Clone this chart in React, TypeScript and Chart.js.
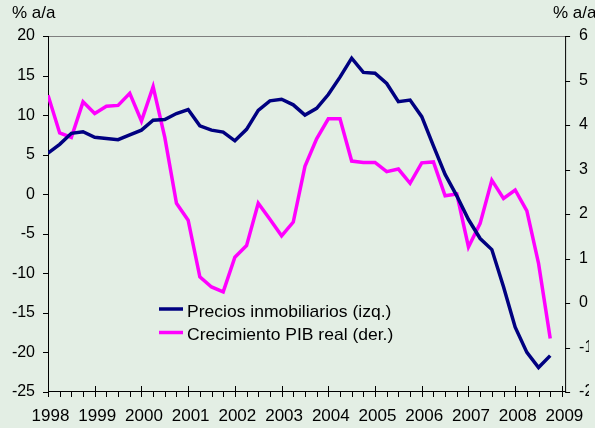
import React, { useEffect, useRef } from 'react';
import { Chart, registerables } from 'chart.js';

Chart.register(...registerables);

// Quarterly categories (1998 T1 .. 2008 T4)
const quarters = [
  '1998 T1', '1998 T2', '1998 T3', '1998 T4',
  '1999 T1', '1999 T2', '1999 T3', '1999 T4',
  '2000 T1', '2000 T2', '2000 T3', '2000 T4',
  '2001 T1', '2001 T2', '2001 T3', '2001 T4',
  '2002 T1', '2002 T2', '2002 T3', '2002 T4',
  '2003 T1', '2003 T2', '2003 T3', '2003 T4',
  '2004 T1', '2004 T2', '2004 T3', '2004 T4',
  '2005 T1', '2005 T2', '2005 T3', '2005 T4',
  '2006 T1', '2006 T2', '2006 T3', '2006 T4',
  '2007 T1', '2007 T2', '2007 T3', '2007 T4',
  '2008 T1', '2008 T2', '2008 T3', '2008 T4',
];

// Left axis series (% a/a)
const preciosInmobiliarios = [
  5.2, 6.3, 7.7, 7.9, 7.2, 7.05, 6.9, 7.5, 8.1, 9.35,
  9.45, 10.2, 10.7, 8.65, 8.1, 7.85, 6.75, 8.2, 10.6, 11.8,
  12.0, 11.3, 10.0, 10.85, 12.6, 14.8, 17.2, 15.4, 15.3, 14.0,
  11.7, 11.9, 9.8, 6.1, 2.5, -0.2, -3.2, -5.6, -7.0, -11.7,
  -16.8, -20.0, -21.9, -20.4,
];

// Right axis series (% a/a)
const crecimientoPIB = [
  4.67, 3.82, 3.72, 4.52, 4.26, 4.42, 4.44, 4.71, 4.09, 4.86,
  3.72, 2.24, 1.86, 0.59, 0.36, 0.25, 1.03, 1.29, 2.24, 1.88,
  1.51, 1.82, 3.07, 3.69, 4.14, 4.14, 3.19, 3.16, 3.16, 2.95,
  3.01, 2.69, 3.15, 3.17, 2.41, 2.45, 1.26, 1.79, 2.76, 2.35,
  2.54, 2.07, 0.89, -0.80,
];

const yearLabels = ['1998', '1999', '2000', '2001', '2002', '2003', '2004', '2005', '2006', '2007', '2008', '2009'];
const leftTicks = [20, 15, 10, 5, 0, -5, -10, -15, -20, -25];
const rightTicks = [6, 5, 4, 3, 2, 1, 0, -1, -2];
const seriesNames = ['Precios inmobiliarios (izq.)', 'Crecimiento PIB real (der.)'];
const axisTitle = '% a/a';

const quarterToX = (q: string) => {
  const [y, t] = q.split(' T');
  return Number(y) + (Number(t) - 1) / 4;
};

const FONT = '"Liberation Sans", Arial, sans-serif';
const BLUE = '#000080';
const PINK = '#ff00ff';
const BG = '#e3eee4';

export default function App() {
  const ref = useRef<HTMLCanvasElement>(null);

  useEffect(() => {
    const canvas = ref.current;
    if (!canvas) return;

    const decor = {
      id: 'decor',
      beforeDraw(chart: any) {
        const { ctx, width, height } = chart;
        ctx.save();
        ctx.fillStyle = BG;
        ctx.fillRect(0, 0, width, height);
        ctx.restore();
      },
      beforeDatasetsDraw(chart: any) {
        const { ctx, chartArea } = chart;
        const { left, right, top, bottom } = chartArea;
        const xs = chart.scales.x;
        const yl = chart.scales.yL;
        const yr = chart.scales.yR;
        ctx.save();
        ctx.lineWidth = 1;
        // top border
        ctx.strokeStyle = '#7f7f7f';
        ctx.beginPath();
        ctx.moveTo(left, top + 0.5);
        ctx.lineTo(right, top + 0.5);
        ctx.stroke();
        ctx.strokeStyle = '#000';
        ctx.beginPath();
        // left axis
        ctx.moveTo(left + 0.5, top);
        ctx.lineTo(left + 0.5, bottom);
        // right axis
        ctx.moveTo(right - 0.5, top);
        ctx.lineTo(right - 0.5, bottom);
        // bottom axis
        ctx.moveTo(left, bottom - 0.5);
        ctx.lineTo(right, bottom - 0.5);
        // left ticks
        leftTicks.forEach((v) => {
          const y = Math.round(yl.getPixelForValue(v)) + 0.5;
          ctx.moveTo(left - 5, y);
          ctx.lineTo(left + 1, y);
        });
        // right ticks
        rightTicks.forEach((v) => {
          const y = Math.round(yr.getPixelForValue(v)) + 0.5;
          ctx.moveTo(right - 1, y);
          ctx.lineTo(right + 4, y);
        });
        // x major ticks
        yearLabels.forEach((l) => {
          const x = Math.round(xs.getPixelForValue(Number(l))) + 0.5;
          ctx.moveTo(x, bottom - 6);
          ctx.lineTo(x, bottom + 5);
        });
        // x minor ticks (quarters)
        quarters.forEach((q) => {
          const v = quarterToX(q);
          if (Number.isInteger(v)) return;
          const x = Math.round(xs.getPixelForValue(v)) + 0.5;
          ctx.moveTo(x, bottom);
          ctx.lineTo(x, bottom + 5);
        });
        ctx.stroke();
        ctx.restore();
      },
      afterDraw(chart: any) {
        const { ctx } = chart;
        ctx.save();
        ctx.fillStyle = '#000';
        ctx.font = `17px ${FONT}`;
        ctx.textBaseline = 'alphabetic';
        ctx.textAlign = 'left';
        ctx.fillText(axisTitle, 12, 18);
        ctx.fillText(axisTitle, 553, 18);

        // legend
        const rows = [
          { name: seriesNames[0], color: BLUE, y: 309 },
          { name: seriesNames[1], color: PINK, y: 332.5 },
        ];
        rows.forEach((r) => {
          ctx.strokeStyle = r.color;
          ctx.lineWidth = 3.5;
          ctx.beginPath();
          ctx.moveTo(159, r.y);
          ctx.lineTo(183, r.y);
          ctx.stroke();
          ctx.fillStyle = '#000';
          ctx.save();
          ctx.translate(187, r.y + 7.5);
          ctx.scale(1.03, 1);
          ctx.fillText(r.name, 0, 0);
          ctx.restore();
        });
        ctx.restore();
      },
    };

    const yFont = { family: FONT, size: 16 };
    const xFont = { family: FONT, size: 17 };

    const chart = new Chart(canvas, {
      type: 'line',
      data: {
        datasets: [
          {
            label: seriesNames[0],
            data: quarters.map((q, i) => ({ x: quarterToX(q), y: preciosInmobiliarios[i] })),
            borderColor: BLUE,
            borderWidth: 3.5,
            pointRadius: 0,
            tension: 0,
            fill: false,
            yAxisID: 'yL',
          },
          {
            label: seriesNames[1],
            data: quarters.map((q, i) => ({ x: quarterToX(q), y: crecimientoPIB[i] })),
            borderColor: PINK,
            borderWidth: 3.5,
            pointRadius: 0,
            tension: 0,
            fill: false,
            yAxisID: 'yR',
          },
        ],
      },
      options: {
        responsive: false,
        animation: false,
        devicePixelRatio: 1,
        layout: { padding: { top: 36, left: 0, right: 0, bottom: 0 } },
        plugins: { legend: { display: false }, tooltip: { enabled: false } },
        scales: {
          x: {
            type: 'linear',
            position: 'bottom',
            min: 1998,
            max: 2009.09,
            grid: { display: false, drawTicks: false },
            border: { display: false },
            afterBuildTicks: (s: any) => {
              s.ticks = yearLabels.map((l) => ({ value: Number(l) }));
            },
            ticks: {
              autoSkip: false,
              maxRotation: 0,
              padding: 14,
              labelOffset: 2.5,
              color: '#000',
              font: xFont,
              callback: (v: any) => String(v),
            },
            afterFit: (s: any) => {
              s.height = 36;
            },
          },
          yL: {
            type: 'linear',
            position: 'left',
            min: -25,
            max: 20,
            grid: { display: false, drawTicks: false },
            border: { display: false },
            afterBuildTicks: (s: any) => {
              s.ticks = leftTicks.map((v) => ({ value: v }));
            },
            ticks: { padding: 13, color: '#000', font: yFont, callback: (v: any) => String(v) },
            afterFit: (s: any) => {
              s.width = 48;
            },
          },
          yR: {
            type: 'linear',
            position: 'right',
            min: -2,
            max: 6,
            grid: { display: false, drawTicks: false },
            border: { display: false },
            afterBuildTicks: (s: any) => {
              s.ticks = rightTicks.map((v) => ({ value: v }));
            },
            ticks: { padding: 13, color: '#000', font: yFont, callback: (v: any) => String(v) },
            afterFit: (s: any) => {
              s.width = 23;
            },
          },
        },
      },
      plugins: [decor],
    } as any);

    return () => chart.destroy();
  }, []);

  return (
    <div style={{ position: 'fixed', left: 0, top: 0, width: 595, height: 428 }}>
      <canvas ref={ref} width={595} height={428} style={{ display: 'block' }} />
    </div>
  );
}
